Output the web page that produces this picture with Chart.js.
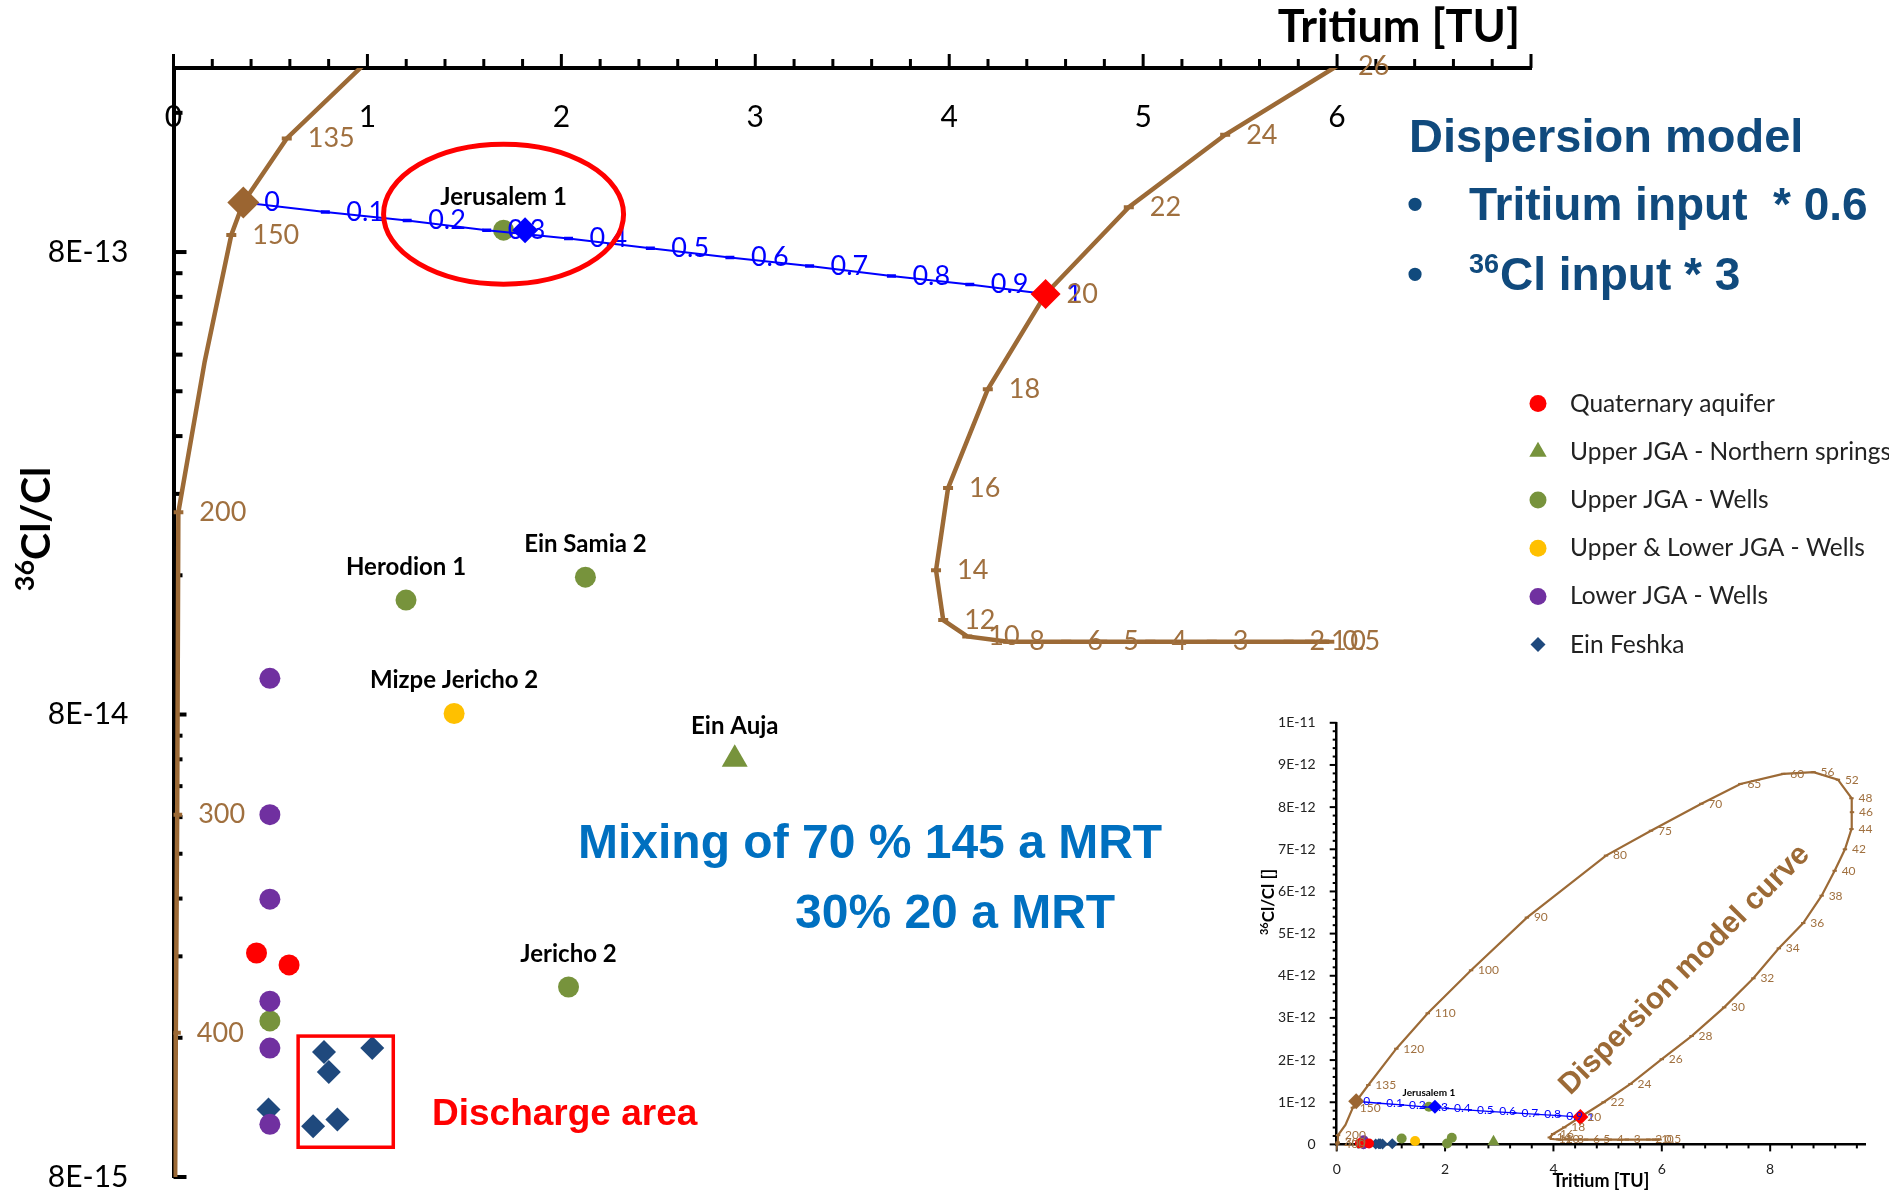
<!DOCTYPE html>
<html lang="en">
<head>
<meta charset="UTF-8">
<title>Tritium vs 36Cl/Cl - dispersion model</title>
<script src="https://cdn.jsdelivr.net/npm/chart.js"></script>
<style>
  html, body { margin: 0; padding: 0; background: #fff; }
  #wrap { position: relative; width: 1889px; height: 1192px; overflow: hidden; }
  #main { position: absolute; left: 0; top: 0; }
  #inset { position: absolute; left: 1250px; top: 690px; }
</style>
</head>
<body>
<div id="wrap">
  <canvas id="main" width="1889" height="1192"></canvas>
  <canvas id="inset" width="639" height="502"></canvas>
</div>
<script>
  // ---- values ----

  // dispersion model curve, labelled with mean residence time [a]
  const curveAges = ['0', '0.5', '1', '2', '3', '4', '5', '6', '8', '10',
    '12', '14', '16', '18', '20', '22', '24', '26', '28', '30',
    '32', '34', '36', '38', '40', '42', '44', '46', '48', '52',
    '56', '60', '65', '70', '75', '80', '90', '100', '110', '120',
    '135', '', '150', '', '200', '300', '400', ''];
  const curveTritium = [5.96, 5.92, 5.86, 5.75, 5.354, 5.037, 4.789, 4.603, 4.304, 4.093,
    3.969, 3.932, 3.994, 4.199, 4.497, 4.926, 5.423, 6.0, 6.55, 7.15,
    7.69, 8.16, 8.61, 8.95, 9.19, 9.38, 9.5, 9.51, 9.5, 9.25,
    8.8, 8.24, 7.45, 6.73, 5.8, 4.97, 3.51, 2.48, 1.68, 1.1,
    0.584, 0.36, 0.298, 0.161, 0.025, 0.019, 0.012, 0.008];
  const curveCl = [1.15e-13, 1.15e-13, 1.15e-13, 1.15e-13, 1.15e-13, 1.15e-13, 1.15e-13, 1.15e-13, 1.15e-13, 1.18e-13,
    1.28e-13, 1.64e-13, 2.47e-13, 4.04e-13, 6.49e-13, 1.0e-12, 1.434e-12, 2.02e-12, 2.57e-12, 3.25e-12,
    3.94e-12, 4.65e-12, 5.25e-12, 5.9e-12, 6.49e-12, 7.0e-12, 7.48e-12, 7.88e-12, 8.21e-12, 8.65e-12,
    8.83e-12, 8.79e-12, 8.55e-12, 8.08e-12, 7.44e-12, 6.85e-12, 5.38e-12, 4.13e-12, 3.11e-12, 2.27e-12,
    1.408e-12, 1.024e-12, 8.71e-13, 4.64e-13, 2.19e-13, 4.86e-14, 1.64e-14, 7e-15];

  // binary mixing line between the 145 a and 20 a waters (fraction of young water)
  const mixFractions = ['0', '0.1', '0.2', '0.3', '0.4', '0.5', '0.6', '0.7', '0.8', '0.9', '1'];
  const mixTritium = [0.36, 0.783, 1.205, 1.615, 2.037, 2.459, 2.869, 3.28, 3.702, 4.106, 4.497];
  const mixCl = [1.024e-12, 9.76e-13, 9.36e-13, 8.92e-13, 8.56e-13, 8.15e-13, 7.79e-13, 7.46e-13, 7.1e-13, 6.81e-13, 6.49e-13];

  // end members and the fitted sample
  const oldTritium = [0.36];
  const oldCl = [1.024e-12];
  const youngTritium = [4.497];
  const youngCl = [6.49e-13];
  const fitTritium = [1.813];
  const fitCl = [8.92e-13];

  // samples
  const groupNames = ['Quaternary aquifer', 'Upper JGA - Northern springs', 'Upper JGA - Wells',
    'Upper & Lower JGA - Wells', 'Lower JGA - Wells', 'Ein Feshka'];
  const quatTritium = [0.428, 0.596];
  const quatCl = [2.44e-14, 2.30e-14];
  const northTritium = [2.894];
  const northCl = [6.4e-14];
  const northNames = ['Ein Auja'];
  const upperTritium = [1.702, 1.199, 2.124, 2.037, 0.497];
  const upperCl = [8.92e-13, 1.414e-13, 1.585e-13, 2.06e-14, 1.74e-14];
  const upperNames = ['Jerusalem 1', 'Herodion 1', 'Ein Samia 2', 'Jericho 2', ''];
  const bothTritium = [1.447];
  const bothCl = [8.04e-14];
  const bothNames = ['Mizpe Jericho 2'];
  const lowerTritium = [0.497, 0.497, 0.497, 0.497, 0.497, 0.497];
  const lowerCl = [9.58e-14, 4.86e-14, 3.19e-14, 1.92e-14, 1.52e-14, 1.04e-14];
  const feshkaTritium = [0.49, 0.776, 0.801, 1.025, 0.72, 0.845];
  const feshkaCl = [1.12e-14, 1.49e-14, 1.35e-14, 1.52e-14, 1.03e-14, 1.065e-14];

  // tick labels
  const xTickValues = [0, 1, 2, 3, 4, 5, 6];
  const xTickLabels = ['0', '1', '2', '3', '4', '5', '6'];
  const yTickValues = [8e-15, 8e-14, 8e-13];
  const yTickLabels = ['8E-15', '8E-14', '8E-13'];
  const insetXTickValues = [0, 2, 4, 6, 8];
  const insetXTickLabels = ['0', '2', '4', '6', '8'];
  const insetYTickValues = [0, 1e-12, 2e-12, 3e-12, 4e-12, 5e-12, 6e-12, 7e-12, 8e-12, 9e-12, 1e-11];
  const insetYTickLabels = ['0', '1E-12', '2E-12', '3E-12', '4E-12', '5E-12', '6E-12', '7E-12', '8E-12', '9E-12', '1E-11'];

  // ---- styles ----
  const FONT = 'Lato, "Noto Sans", sans-serif';
  const ARIAL = '"Liberation Sans", Arial, sans-serif';
  const BROWN = '#9C6A36';
  const BROWN_TEXT = '#A0703F';
  const BLUE = '#0000FF';
  const GROUP_COLORS = ['#FF0000', '#77933C', '#77933C', '#FFC000', '#7030A0', '#1F497D'];
  const GROUP_STYLES = ['circle', 'triangle', 'circle', 'circle', 'circle', 'rectRot'];

  const MAIN = {
    circle: 10.5, feshka: 12, tri: 15, bigDiamond: 16, redDiamond: 15, fitDiamond: 13,
    curveW: 4.5, dash: 5, dashW: 4, mixW: 2, mixDash: 4.5, mixDashW: 3.5,
    ageFont: '27px ' + FONT, mixFont: '27px ' + FONT, nameFont: 'bold 24px ' + FONT,
    labelDx: 21, nameDy: -33, names: null, clip: undefined
  };
  const INSET = {
    circle: 5, feshka: 5.5, tri: 7, bigDiamond: 8, redDiamond: 8, fitDiamond: 7,
    curveW: 2.2, dash: 2.2, dashW: 2, mixW: 1.3, mixDash: 2, mixDashW: 1.8,
    ageFont: '12px ' + FONT, mixFont: '12px ' + FONT, nameFont: 'bold 10px ' + FONT,
    labelDx: 7, nameDy: -14, names: ['Jerusalem 1'], clip: false
  };

  function pts(xs, ys) {
    return xs.map((x, i) => ({x: x, y: ys[i]}));
  }

  function range(a, b, step) {
    const n = Math.round((b - a) / step);
    return Array.from({length: n + 1}, (_, i) => +(a + i * step).toPrecision(10));
  }

  function lookup(v, values, labels, tol) {
    const k = values.findIndex(m => Math.abs(m - v) <= tol);
    return k < 0 ? '' : labels[k];
  }

  function buildDatasets(s) {
    const grp = (i, xs, ys, names, r, order) => ({
      label: groupNames[i], data: pts(xs, ys),
      pointStyle: GROUP_STYLES[i], pointRadius: r, pointBorderWidth: 0,
      backgroundColor: GROUP_COLORS[i], borderColor: GROUP_COLORS[i],
      order: order, clip: s.clip,
      pointLabels: names,
      labelStyle: names ? {font: s.nameFont, color: '#000', dx: 0, dy: s.nameDy, align: 'center', only: s.names} : null
    });
    const marker = (label, xs, ys, r, color) => ({
      label: label, data: pts(xs, ys), pointStyle: 'rectRot', pointRadius: r,
      pointBorderWidth: 0, backgroundColor: color, borderColor: color, order: 0, clip: s.clip
    });
    return [
      grp(0, quatTritium, quatCl, null, s.circle, 1),
      grp(1, northTritium, northCl, northNames, s.tri, 1),
      grp(2, upperTritium, upperCl, upperNames, s.circle, 3),
      grp(3, bothTritium, bothCl, bothNames, s.circle, 1),
      grp(4, lowerTritium, lowerCl, null, s.circle, 1),
      grp(5, feshkaTritium, feshkaCl, null, s.feshka, 1),
      {
        label: 'Mixing', data: pts(mixTritium, mixCl), showLine: true,
        borderColor: BLUE, borderWidth: s.mixW, backgroundColor: BLUE,
        pointStyle: 'line', pointRadius: s.mixDash, pointBorderWidth: s.mixDashW, pointBorderColor: BLUE,
        order: 2, clip: s.clip,
        pointLabels: mixFractions,
        labelStyle: {font: s.mixFont, color: BLUE, dx: s.labelDx, dy: 0, align: 'left'}
      },
      {
        label: 'Dispersion model', data: pts(curveTritium, curveCl), showLine: true,
        borderColor: BROWN, borderWidth: s.curveW, backgroundColor: BROWN,
        pointStyle: 'line', pointRadius: curveAges.map(a => a ? s.dash : 0),
        pointBorderWidth: s.dashW, pointBorderColor: BROWN,
        order: 4, clip: s.clip,
        pointLabels: curveAges,
        labelStyle: {font: s.ageFont, color: BROWN_TEXT, dx: s.labelDx, dy: 0, align: 'left'}
      },
      marker('145 a', oldTritium, oldCl, s.bigDiamond, '#9B6531'),
      marker('20 a', youngTritium, youngCl, s.redDiamond, '#FF0000'),
      marker('Jerusalem 1 (mix)', fitTritium, fitCl, s.fitDiamond, '#0000FF')
    ];
  }

  // tick marks of different length for major and minor ticks, inside or outside
  function tickPlugin(axes) {
    return {
      id: 'tickMarks',
      beforeDatasetsDraw(chart) {
        const ctx = chart.ctx;
        ctx.save();
        ctx.strokeStyle = '#000';
        axes.forEach(a => {
          const sc = chart.scales[a.id];
          ctx.lineWidth = a.width;
          sc.ticks.forEach(t => {
            const p = sc.getPixelForValue(t.value);
            const len = a.isMajor(t.value) ? a.major : a.minor;
            ctx.beginPath();
            if (a.pos === 'top' || a.pos === 'bottom') {
              const y0 = a.pos === 'top' ? sc.bottom : sc.top;
              ctx.moveTo(p, y0);
              ctx.lineTo(p, y0 + a.dir * len);
            } else {
              const x0 = sc.right;
              ctx.moveTo(x0, p);
              ctx.lineTo(x0 + a.dir * len, p);
            }
            ctx.stroke();
          });
        });
        ctx.restore();
      }
    };
  }

  // text next to points (ages, mixing fractions, sample names)
  const pointLabelPlugin = {
    id: 'pointLabels',
    afterDatasetsDraw(chart) {
      const ctx = chart.ctx;
      const area = chart.chartArea;
      chart.data.datasets.forEach((ds, i) => {
        const st = ds.labelStyle;
        if (!st || !ds.pointLabels) return;
        const meta = chart.getDatasetMeta(i);
        ctx.save();
        ctx.font = st.font;
        ctx.fillStyle = st.color;
        ctx.textAlign = st.align;
        ctx.textBaseline = 'middle';
        meta.data.forEach((el, j) => {
          const txt = ds.pointLabels[j];
          if (!txt) return;
          if (st.only && st.only.indexOf(txt) < 0) return;
          if (el.x < area.left - 3 || el.x > area.right + 3 || el.y < area.top - 3 || el.y > area.bottom + 3) return;
          ctx.fillText(txt, el.x + st.dx, el.y + st.dy);
        });
        ctx.restore();
      });
    }
  };

  function drawRotatedTitle(ctx, cx, cy, sup, main, supSize, mainSize, base) {
    ctx.save();
    ctx.translate(cx, cy);
    ctx.rotate(-Math.PI / 2);
    ctx.fillStyle = '#000';
    ctx.textAlign = 'left';
    ctx.textBaseline = 'alphabetic';
    ctx.font = 'bold ' + supSize + 'px ' + FONT;
    const w1 = ctx.measureText(sup).width;
    ctx.font = 'bold ' + mainSize + 'px ' + FONT;
    const w2 = ctx.measureText(main).width;
    const x0 = -(w1 + w2) / 2;
    ctx.fillText(main, x0 + w1, base);
    ctx.font = 'bold ' + supSize + 'px ' + FONT;
    ctx.fillText(sup, x0, base - mainSize * 0.38);
    ctx.restore();
  }

  function drawSymbol(ctx, style, x, y, r, color) {
    ctx.fillStyle = color;
    ctx.beginPath();
    if (style === 'triangle') {
      ctx.moveTo(x, y - r);
      ctx.lineTo(x + r * 0.866, y + r * 0.5);
      ctx.lineTo(x - r * 0.866, y + r * 0.5);
      ctx.closePath();
    } else if (style === 'rectRot') {
      ctx.moveTo(x, y - r);
      ctx.lineTo(x + r, y);
      ctx.lineTo(x, y + r);
      ctx.lineTo(x - r, y);
      ctx.closePath();
    } else {
      ctx.arc(x, y, r, 0, Math.PI * 2);
    }
    ctx.fill();
  }

  const mainDecor = {
    id: 'mainDecor',
    afterDatasetsDraw(chart) {
      const ctx = chart.ctx;
      ctx.save();
      // ellipse around Jerusalem 1
      const jer = chart.getDatasetMeta(2).data[0];
      ctx.strokeStyle = '#FF0000';
      ctx.lineWidth = 5;
      ctx.beginPath();
      ctx.ellipse(jer.x, jer.y - 16, 120, 70, 0, 0, Math.PI * 2);
      ctx.stroke();
      // box around the Ein Feshka discharge samples
      const fe = chart.getDatasetMeta(5).data.slice(1);
      const xs = fe.map(p => p.x), ys = fe.map(p => p.y);
      const l = Math.min(...xs) - 15, r = Math.max(...xs) + 21;
      const t = Math.min(...ys) - 12, b = Math.max(...ys) + 21;
      ctx.lineWidth = 3.5;
      ctx.strokeRect(l, t, r - l, b - t);
      ctx.restore();
    },
    afterDraw(chart) {
      const ctx = chart.ctx;
      drawRotatedTitle(ctx, 32, 529, '36', 'Cl/Cl', 27, 41, 18);

      ctx.save();
      ctx.textAlign = 'left';
      ctx.textBaseline = 'alphabetic';
      ctx.fillStyle = '#104A7D';
      ctx.font = 'bold 47px ' + ARIAL;
      ctx.fillText('Dispersion model', 1409, 152);
      ctx.font = 'bold 46px ' + ARIAL;
      ctx.fillText('\u2022', 1407, 220);
      ctx.fillText('Tritium input  * 0.6', 1469, 220);
      ctx.fillText('\u2022', 1407, 290);
      ctx.font = 'bold 27px ' + ARIAL;
      ctx.fillText('36', 1469, 273);
      const w36 = ctx.measureText('36').width;
      ctx.font = 'bold 46px ' + ARIAL;
      ctx.fillText('Cl input * 3', 1470 + w36, 290);

      ctx.fillStyle = '#0070C0';
      ctx.font = 'bold 48px ' + ARIAL;
      ctx.fillText('Mixing of 70 % 145 a MRT', 578, 858);
      ctx.fillText('30% 20 a MRT', 795, 928);

      ctx.fillStyle = '#FF0000';
      ctx.font = 'bold 37px ' + ARIAL;
      ctx.fillText('Discharge area', 432, 1125);

      // legend
      const legendR = [8.5, 10, 8.5, 8.5, 8.5, 7.5];
      ctx.font = '24.5px ' + FONT;
      ctx.textBaseline = 'middle';
      groupNames.forEach((name, i) => {
        const y = 403.6 + i * 48.2;
        drawSymbol(ctx, GROUP_STYLES[i], 1538, y, legendR[i], GROUP_COLORS[i]);
        ctx.fillStyle = '#222';
        ctx.fillText(name, 1570, y);
      });
      ctx.restore();
    }
  };

  const insetDecor = {
    id: 'insetDecor',
    afterDraw(chart) {
      const ctx = chart.ctx;
      drawRotatedTitle(ctx, 18, 212, '36', 'Cl/Cl []', 11, 17, 6);
      ctx.save();
      ctx.translate(434.7, 280);
      ctx.rotate(-Math.PI / 4);
      ctx.font = 'bold 30px ' + ARIAL;
      ctx.fillStyle = BROWN;
      ctx.textAlign = 'center';
      ctx.textBaseline = 'middle';
      ctx.fillText('Dispersion model curve', 0, 0);
      ctx.restore();
    }
  };

  const yMainTicks = [];
  yTickValues.forEach(base => {
    for (let k = 1; k <= 9; k++) {
      if (base * k <= 2e-12 * 1.0001) yMainTicks.push(base * k);
    }
  });

  new Chart(document.getElementById('main'), {
    type: 'scatter',
    data: {datasets: buildDatasets(MAIN)},
    options: {
      responsive: false,
      devicePixelRatio: 1,
      animation: false,
      events: [],
      layout: {autoPadding: false, padding: {left: 0, top: 0, right: 358, bottom: 15}},
      plugins: {legend: {display: false}, tooltip: {enabled: false}},
      scales: {
        x: {
          type: 'linear', position: 'top', min: 0, max: 7,
          afterBuildTicks: sc => { sc.ticks = range(0, 7, 0.2).map(v => ({value: v})); },
          afterFit: sc => { sc.height = 68; sc.paddingLeft = 0; sc.paddingRight = 0; },
          grid: {display: false},
          border: {display: true, color: '#000', width: 4},
          ticks: {
            mirror: true, padding: 31, autoSkip: false, maxRotation: 0, minRotation: 0,
            color: '#000', font: {family: FONT, size: 30},
            callback: v => lookup(v, xTickValues, xTickLabels, 1e-6)
          },
          title: {
            display: true, text: 'Tritium [TU] ', align: 'end', color: '#000', padding: 0,
            font: {family: FONT, size: 45, weight: 'bold'}
          }
        },
        y: {
          type: 'logarithmic', position: 'left', min: 8e-15, max: 2e-12,
          afterBuildTicks: sc => { sc.ticks = yMainTicks.map(v => ({value: v})); },
          afterFit: sc => { sc.width = 173.5; sc.paddingTop = 0; sc.paddingBottom = 0; },
          grid: {display: false},
          border: {display: true, color: '#000', width: 4},
          ticks: {
            padding: 37, autoSkip: false, color: '#000', font: {family: FONT, size: 30},
            callback: v => lookup(v, yTickValues, yTickLabels, v * 1e-6)
          }
        }
      }
    },
    plugins: [
      tickPlugin([
        {id: 'x', pos: 'top', dir: -1, major: 14, minor: 9, width: 3,
          isMajor: v => Math.abs(v - Math.round(v)) < 1e-6},
        {id: 'y', pos: 'left', dir: 1, major: 13, minor: 9, width: 4,
          isMajor: v => yTickValues.some(m => Math.abs(v / m - 1) < 1e-6)}
      ]),
      pointLabelPlugin,
      mainDecor
    ]
  });

  new Chart(document.getElementById('inset'), {
    type: 'scatter',
    data: {datasets: buildDatasets(INSET)},
    options: {
      responsive: false,
      devicePixelRatio: 1,
      animation: false,
      events: [],
      layout: {autoPadding: false, padding: {left: 0, top: 32.8, right: 24, bottom: 0}},
      plugins: {legend: {display: false}, tooltip: {enabled: false}},
      scales: {
        x: {
          type: 'linear', position: 'bottom', min: 0, max: 9.75,
          afterBuildTicks: sc => { sc.ticks = range(0, 9.6, 0.4).map(v => ({value: v})); },
          afterFit: sc => { sc.height = 47.6; sc.paddingLeft = 0; sc.paddingRight = 0; },
          grid: {display: false},
          border: {display: true, color: '#000', width: 2.5},
          ticks: {
            padding: 9, autoSkip: false, maxRotation: 0, minRotation: 0,
            color: '#222', font: {family: FONT, size: 14},
            callback: v => lookup(v, insetXTickValues, insetXTickLabels, 1e-6)
          },
          title: {
            display: true, text: 'Tritium [TU]', color: '#000', padding: 0,
            font: {family: FONT, size: 18, weight: 'bold'}
          }
        },
        y: {
          type: 'linear', position: 'left', min: 0, max: 1e-11,
          afterBuildTicks: sc => { sc.ticks = range(0, 50, 1).map(i => ({value: i * 2e-13})); },
          afterFit: sc => { sc.width = 86.7; sc.paddingTop = 0; sc.paddingBottom = 0; },
          grid: {display: false},
          border: {display: true, color: '#000', width: 2.5},
          ticks: {
            padding: 13, autoSkip: false, color: '#222', font: {family: FONT, size: 14},
            callback: v => lookup(v, insetYTickValues, insetYTickLabels, 1e-16)
          }
        }
      }
    },
    plugins: [
      tickPlugin([
        {id: 'x', pos: 'bottom', dir: 1, major: 7, minor: 4, width: 2,
          isMajor: v => Math.abs(v / 2 - Math.round(v / 2)) < 1e-6},
        {id: 'y', pos: 'left', dir: -1, major: 7, minor: 4, width: 2,
          isMajor: v => Math.abs(v / 1e-12 - Math.round(v / 1e-12)) < 1e-6}
      ]),
      pointLabelPlugin,
      insetDecor
    ]
  });
</script>
</body>
</html>
